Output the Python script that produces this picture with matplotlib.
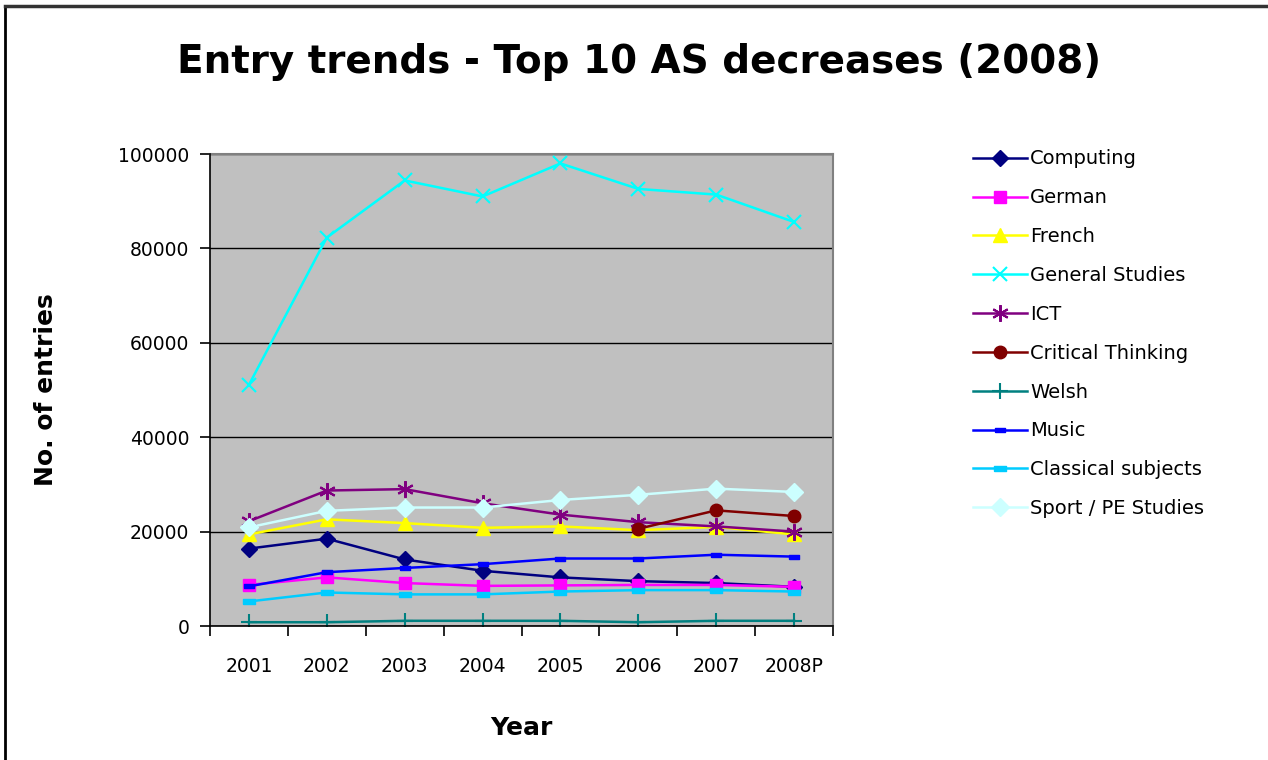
import matplotlib.pyplot as plt
from matplotlib.lines import Line2D
from matplotlib.ticker import FixedLocator, NullFormatter

years = ["2001", "2002", "2003", "2004", "2005", "2006", "2007", "2008P"]

computing = [16400, 18500, 14100, 11700, 10300, 9500, 9100, 8300]
german = [8700, 10300, 9100, 8500, 8600, 8700, 8700, 8300]
french = [19400, 22600, 21800, 20800, 21100, 20300, 21000, 19400]
general_studies = [51100, 82300, 94400, 91000, 98000, 92600, 91400, 85600]
ict = [22200, 28700, 29000, 26000, 23600, 22000, 21100, 20000]
critical_thinking = [None, None, None, None, None, 20600, 24500, 23300]
welsh = [800, 800, 1100, 1100, 1100, 800, 1100, 1100]
music = [8400, 11400, 12300, 13100, 14300, 14300, 15100, 14700]
classical = [5200, 7100, 6700, 6700, 7300, 7600, 7600, 7300]
sport_pe = [20900, 24400, 25100, 25100, 26700, 27800, 29100, 28400]

dash = [(-1, -0.45), (1, -0.45), (1, 0.45), (-1, 0.45), (-1, -0.45)]

series = [
    ("Computing", computing, "#000080", "D", 8),
    ("German", german, "#FF00FF", "s", 9),
    ("French", french, "#FFFF00", "^", 10),
    ("General Studies", general_studies, "#00FFFF", "x", 10),
    ("ICT", ict, "#800080", (6, 2, 0), 12),
    ("Critical Thinking", critical_thinking, "#800000", "o", 9),
    ("Welsh", welsh, "#008080", "+", 11),
    ("Music", music, "#0000FF", dash, 7),
    ("Classical subjects", classical, "#00CCFF", dash, 8),
    ("Sport / PE Studies", sport_pe, "#CCFFFF", "D", 9),
]

plt.rcParams['font.family'] = ['DejaVu Sans']

fig = plt.figure(figsize=(12.68, 7.6), dpi=100)
ax = fig.add_axes([210 / 1268, 1 - 626 / 760, 623 / 1268, 472 / 760])
ax.set_facecolor("#C0C0C0")

x = list(range(len(years)))
handles = []
for name, vals, color, marker, ms in series:
    xs = [xi for xi, v in zip(x, vals) if v is not None]
    ys = [v for v in vals if v is not None]
    mew = 1.5 if marker in ("x", "+") or isinstance(marker, tuple) else 1
    ax.plot(xs, ys, color=color, lw=1.8, marker=marker, ms=ms,
            markeredgecolor=color, markerfacecolor=color, mew=mew, zorder=3)
    handles.append(Line2D([], [], color=color, lw=1.8, marker=marker, ms=ms,
                          markeredgecolor=color, markerfacecolor=color, mew=mew))

ax.set_xlim(-0.5, len(years) - 0.5)
ax.set_ylim(0, 100000)
ax.yaxis.set_major_locator(FixedLocator([0, 20000, 40000, 60000, 80000, 100000]))
ax.set_yticklabels(["0", "20000", "40000", "60000", "80000", "100000"])
ax.xaxis.set_major_locator(FixedLocator([i + 0.5 for i in range(-1, len(years))]))
ax.xaxis.set_major_formatter(NullFormatter())
ax.xaxis.set_minor_locator(FixedLocator(x))
ax.set_xticklabels(years, minor=True)
ax.tick_params(axis="x", which="minor", length=0, pad=22, labelsize=13.5)
ax.tick_params(axis="x", which="major", length=7, width=1.2, direction="out")
ax.tick_params(axis="y", length=7, width=1.2, direction="out", labelsize=13.5, pad=8)
ax.grid(axis="y", color="black", lw=1, zorder=1)

for side in ["top", "right"]:
    ax.spines[side].set_color("#808080")
    ax.spines[side].set_linewidth(1.5)
for side in ["left", "bottom"]:
    ax.spines[side].set_color("black")
    ax.spines[side].set_linewidth(1.2)
    ax.spines[side].set_zorder(4)

ax.set_xlabel("Year", fontsize=18, fontweight="bold", labelpad=29)
ax.set_ylabel("No. of entries", fontsize=18, fontweight="bold", labelpad=43)

fig.text(0.5 * (176 + 1102) / 1268, 1 - 62 / 760,
         "Entry trends - Top 10 AS decreases (2008)", fontsize=28,
         fontweight="bold", ha="center", va="center")

fig.legend(handles, [s[0] for s in series], loc="upper left",
           bbox_to_anchor=(955 / 1268, 1 - 132 / 760), frameon=False,
           fontsize=14, handlelength=2.8, handletextpad=0.15, labelspacing=1.02)

# outer chart frame (top and left edges only visible)
fig.add_artist(Line2D([5 / 1268, 5 / 1268], [0, 1 - 6 / 760], color="black", lw=2,
                      transform=fig.transFigure))
fig.add_artist(Line2D([5 / 1268, 1], [1 - 6 / 760, 1 - 6 / 760], color="#333333", lw=2.5,
                      transform=fig.transFigure))

plt.savefig("out.png", dpi=100)
